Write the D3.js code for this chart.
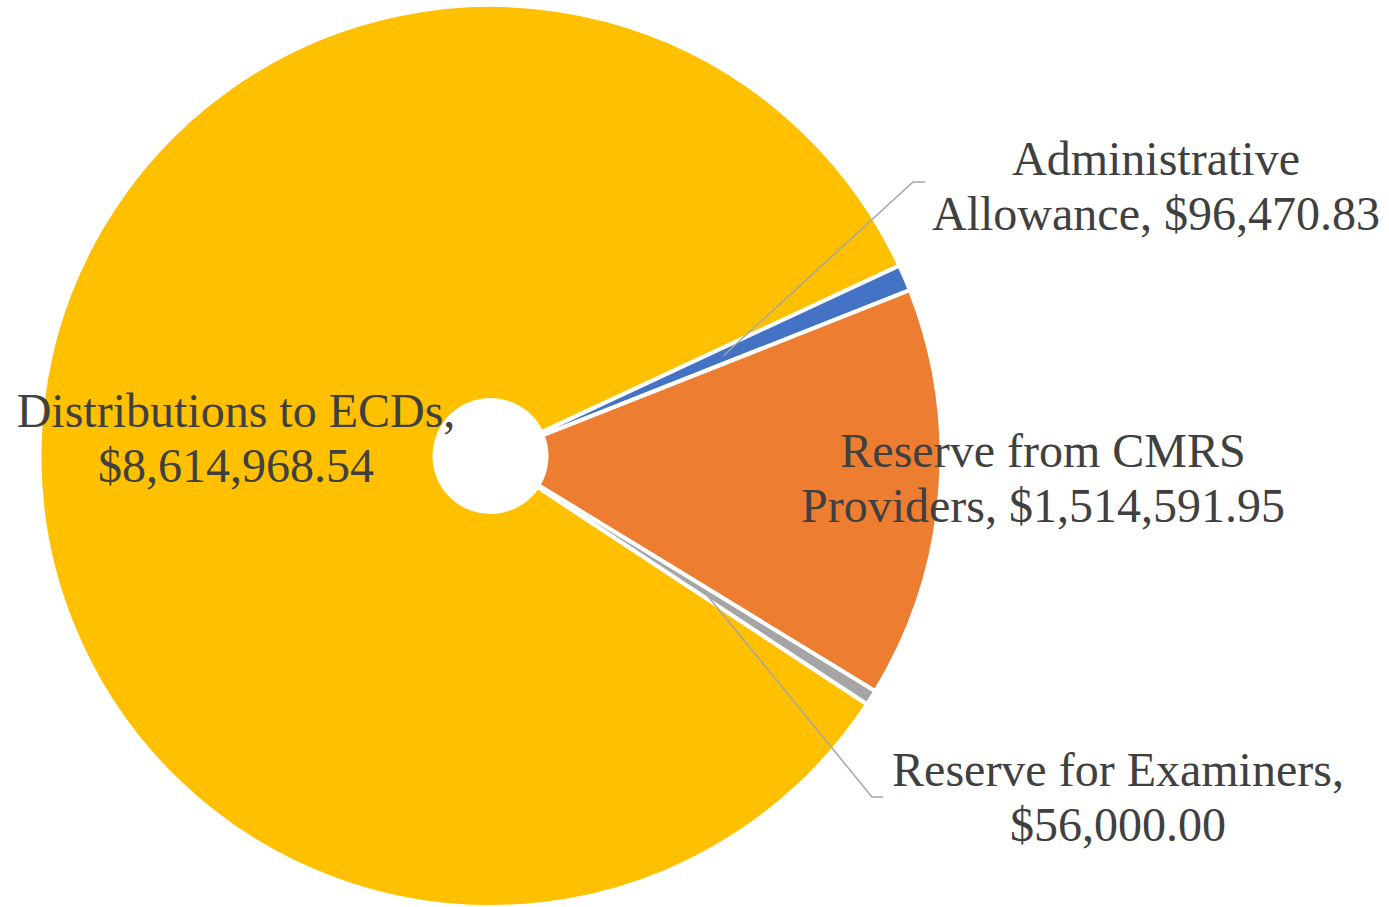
<!DOCTYPE html>
<html>
<head>
<meta charset="utf-8">
<script src="https://cdn.jsdelivr.net/npm/d3@7/dist/d3.min.js"></script>
<style>
  html, body { margin: 0; padding: 0; background: #ffffff; }
  svg { display: block; }
</style>
</head>
<body>
<svg id="chart" width="1389" height="907"></svg>
<script>
// Fund allocation, in dollars
const categories = [
  "Distributions to ECDs",
  "Administrative Allowance",
  "Reserve from CMRS Providers",
  "Reserve for Examiners"
];
const amounts = [8614968.54, 96470.83, 1514591.95, 56000.00];
const sliceColors = ["#FFC000", "#4472C4", "#ED7D31", "#A5A5A5"];

// Label text lines (category, value) for each slice
const labelLines = [
  ["Distributions to ECDs,", "$8,614,968.54"],
  ["Administrative", "Allowance, $96,470.83"],
  ["Reserve from CMRS", "Providers, $1,514,591.95"],
  ["Reserve for Examiners,", "$56,000.00"]
];

// Label placement: text centre x, first baseline y, and optional leader elbow/end
const labelLayout = [
  { x: 236, y: 427 },
  { x: 1156, y: 175, elbow: [913, 182], end: [925, 182] },
  { x: 1043, y: 467 },
  { x: 1118, y: 786, elbow: [872, 797], end: [883, 797] }
];

const width = 1389, height = 907;
const cx = 490.5, cy = 456;
const outerR = 451, innerR = 56;
const lineGap = 55;

const svg = d3.select("#chart");
const g = svg.append("g").attr("transform", `translate(${cx},${cy})`);

const data = categories.map((c, i) => ({ category: c, amount: amounts[i], i }));

const firstSliceAngle = 123.4 * Math.PI / 180;
const pie = d3.pie()
  .sort(null)
  .value(d => d.amount)
  .startAngle(firstSliceAngle)
  .endAngle(firstSliceAngle + 2 * Math.PI);

const arc = d3.arc().innerRadius(innerR).outerRadius(outerR);
const arcs = pie(data);

g.selectAll("path.slice")
  .data(arcs)
  .join("path")
  .attr("class", "slice")
  .attr("d", arc)
  .attr("fill", d => sliceColors[d.data.i])
  .attr("stroke", "#ffffff")
  .attr("stroke-width", 4)
  .attr("stroke-linejoin", "round");

// Leader lines from slice centroid to the label
arcs.forEach(d => {
  const L = labelLayout[d.data.i];
  if (!L.elbow) return;
  const [x0, y0] = arc.centroid(d);
  const pts = [[x0 + cx, y0 + cy], L.elbow, L.end];
  svg.append("polyline")
    .attr("points", pts.map(p => p.join(",")).join(" "))
    .attr("fill", "none")
    .attr("stroke", "#A6A6A6")
    .attr("stroke-width", 1.5);
});

// Data labels
arcs.forEach(d => {
  const L = labelLayout[d.data.i];
  const t = svg.append("text")
    .attr("x", L.x)
    .attr("y", L.y)
    .attr("text-anchor", "middle")
    .attr("font-family", "'Liberation Serif', 'Times New Roman', serif")
    .attr("font-size", 48)
    .attr("fill", "#404040");
  labelLines[d.data.i].forEach((line, k) => {
    t.append("tspan")
      .attr("x", L.x)
      .attr("y", L.y + k * lineGap)
      .text(line);
  });
});
</script>
</body>
</html>
